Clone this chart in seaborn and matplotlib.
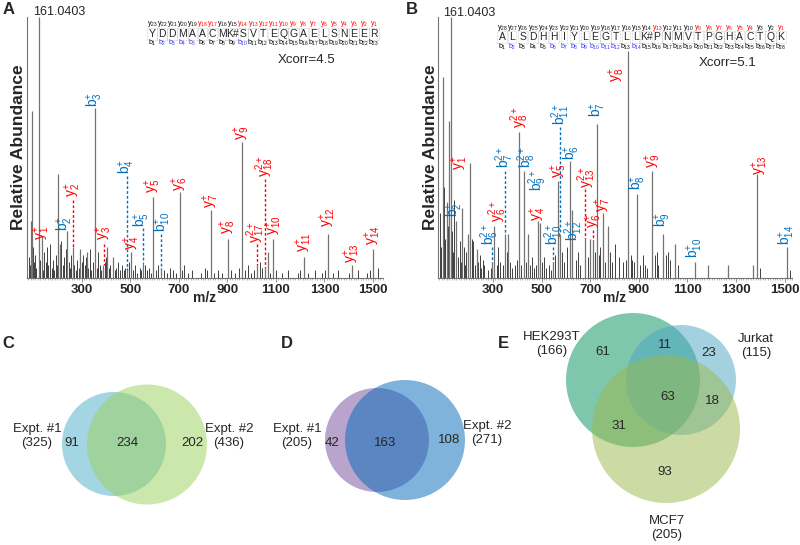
import matplotlib
matplotlib.use('Agg')
import matplotlib.pyplot as plt
from matplotlib.patches import Circle
from matplotlib.ticker import MultipleLocator
import seaborn as sns

# ---------------- data ----------------
# panel A: annotated peaks (m/z, relative abundance)
A_peak_mz = [96, 123, 91, 137, 203, 211, 240, 264, 293, 322, 355, 388, 405, 429, 487, 503,
             553, 594, 627, 705, 833, 903, 961, 1022, 1055, 1068, 1088, 1216, 1315, 1414, 1500]
A_peak_int = [.64, 1.0, .22, .16, .40, .13, .18, .12, .11, .10, .65, .05, .12, .08, .04, .10,
              .06, .31, .03, .33, .26, .15, .52, .05, .04, .10, .15, .08, .17, .05, .11]
# panel A: small background peaks (m/z, rel. abundance)
A_noise = [(82, .08), (86, .05), (100, .12), (104, .06), (108, .09), (113, .04), (130, .07),
           (141, .03), (146, .10), (152, .06), (158, .12), (163, .05), (170, .13), (176, .04),
           (182, .07), (188, .03), (194, .09), (199, .05), (216, .14), (222, .05), (228, .08),
           (234, .11), (246, .06), (252, .04), (258, .09), (270, .05), (276, .03), (282, .07),
           (288, .04), (300, .06), (306, .09), (312, .05), (318, .08), (328, .04), (334, .11),
           (340, .03), (346, .06), (362, .04), (368, .10), (374, .05), (380, .03), (395, .06),
           (400, .08), (412, .04), (418, .05), (436, .03), (442, .04), (450, .06), (458, .03),
           (466, .05), (474, .03), (480, .04), (495, .06), (512, .03), (520, .05), (530, .02),
           (540, .04), (546, .03), (560, .05), (568, .03), (578, .04), (586, .02), (606, .03),
           (614, .05), (640, .03), (652, .02), (664, .04), (676, .03), (690, .02), (712, .03),
           (722, .05), (740, .02), (756, .03), (790, .02), (806, .04), (818, .03), (846, .02),
           (862, .03), (880, .02), (915, .03), (930, .02), (946, .04), (972, .03), (984, .05),
           (996, .02), (1010, .03), (1034, .06), (1044, .04), (1076, .02), (1102, .03),
           (1124, .02), (1150, .03), (1192, .02), (1200, .03), (1232, .02), (1262, .03),
           (1290, .02), (1302, .03), (1336, .02), (1356, .03), (1402, .02), (1440, .03),
           (1474, .02), (1488, .03), (1522, .04)]
A_ions = ['y1+', 'b2+', 'y2+', 'b3+', 'y3+', 'b4+', 'y4+', 'b5+', 'b10+', 'y5+', 'y6+', 'y7+',
          'y8+', 'y9+', 'y17 2+', 'y18 2+', 'y10+', 'y11+', 'y12+', 'y13+', 'y14+']

# panel B
B_peak_mz = [95, 119, 126, 111, 148, 173, 197, 206, 234, 296, 304, 349, 362, 407, 427, 444,
             485, 493, 547, 567, 575, 617, 625, 678, 699, 711, 727, 752, 773, 855, 892, 954,
             999, 1048, 1130, 1184, 1266, 1369, 1385, 1508]
B_peak_int = [.77, .60, 1.0, .29, .22, .27, .17, .44, .11, .06, .20, .17, .17, .56, .41, .17,
              .22, .21, .06, .37, .17, .45, .26, .15, .15, .14, .59, .25, .20, .87, .32, .41,
              .17, .13, .06, .05, .05, .05, .40, .12]
B_noise = [(84, .25), (88, .12), (100, .35), (104, .15), (115, .20), (130, .18), (135, .10),
           (140, .30), (158, .08), (163, .14), (168, .06), (180, .12), (186, .05), (190, .10),
           (214, .15), (220, .14), (226, .05), (240, .06), (246, .09), (252, .04), (258, .07),
           (264, .05), (280, .03), (290, .04), (316, .05), (322, .12), (330, .06), (340, .05),
           (356, .10), (372, .06), (380, .04), (390, .05), (400, .07), (415, .05), (435, .06),
           (452, .05), (460, .08), (470, .04), (478, .05), (500, .06), (510, .08), (520, .04),
           (530, .05), (540, .03), (556, .09), (584, .10), (592, .06), (604, .12), (640, .07),
           (650, .10), (660, .05), (690, .08), (720, .10), (735, .09), (742, .12), (760, .06),
           (782, .10), (790, .06), (800, .13), (820, .08), (836, .06), (846, .07), (866, .09),
           (872, .07), (880, .06), (904, .05), (916, .09), (924, .05), (935, .04), (968, .09),
           (974, .10), (980, .05), (1010, .09), (1020, .10), (1030, .07), (1060, .05),
           (1400, .04), (1520, .03)]
B_ions = ['y1+', 'b2+', 'b6 2+', 'y6 2+', 'b7 2+', 'y8 2+', 'b8 2+', 'b9 2+', 'y4+', 'b10 2+',
          'y5+', 'b11 2+', 'b6+', 'b12 2+', 'y13 2+', 'y6+', 'b7+', 'y7+', 'y8+', 'b8+', 'y9+',
          'b9+', 'b10+', 'y13+', 'b14+']

A_sequence = ['Y', 'D', 'D', 'M', 'A', 'A', 'C', 'M', 'K#', 'S', 'V', 'T', 'E', 'Q', 'G', 'A',
              'E', 'L', 'S', 'N', 'E', 'E', 'R']
A_y_found = [1, 2, 3, 4, 5, 6, 7, 8, 9, 10, 11, 12, 13, 14, 17, 18]
A_b_found = [2, 3, 4, 5, 10]
B_sequence = ['A', 'L', 'S', 'D', 'H', 'H', 'I', 'Y', 'L', 'E', 'G', 'T', 'L', 'L', 'K#', 'P',
              'N', 'M', 'V', 'T', 'P', 'G', 'H', 'A', 'C', 'T', 'Q', 'K']
B_y_found = [1, 4, 5, 6, 7, 8, 9, 13]
B_b_found = [2, 6, 7, 8, 9, 10, 11, 12, 14]
xcorr = {'A': 4.5, 'B': 5.1}
base_peak = '161.0403'

venn_c_names = ['Expt. #1', 'Expt. #2']
venn_c_totals = [325, 436]
venn_c_counts = [91, 234, 202]
venn_d_names = ['Expt. #1', 'Expt. #2']
venn_d_totals = [205, 271]
venn_d_counts = [42, 163, 108]
venn_e_names = ['HEK293T', 'Jurkat', 'MCF7']
venn_e_totals = [166, 115, 205]
# HEK only, HEK&Jurkat, Jurkat only, all, Jurkat&MCF7, HEK&MCF7, MCF7 only
venn_e_counts = [61, 11, 23, 63, 18, 31, 93]

# ---------------- layout (label positions, m/z and height) ----------------
A_label_pos = [(137, .146), (232, .18), (264, .31), (355, .655), (392, .146), (487, .40),
               (507, .107), (548, .195), (634, .176), (594, .325), (705, .335), (833, .27),
               (903, .17), (961, .53), (1016, .134), (1055, .387), (1094, .165), (1216, .10),
               (1315, .195), (1414, .057), (1500, .126)]
A_leaders = [('y', 264, .30, .12), ('y', 392, .13, .05), ('b', 487, .39, .03),
             ('b', 553, .19, .06), ('b', 627, .17, .03), ('y', 1022, .13, .05),
             ('y', 1055, .38, .04)]
B_label_pos = [(164, .415), (144, .235), (288, .127), (321, .215), (349, .42), (412, .575),
               (440, .42), (486, .335), (486, .22), (551, .125), (570, .385), (578, .588),
               (625, .454), (634, .14), (686, .346), (714, .19), (732, .615), (752, .254),
               (810, .75), (896, .338), (958, .423), (999, .196), (1130, .077), (1397, .396),
               (1508, .127)]
B_leaders = [('b', 296, .12, .06), ('b', 349, .41, .17), ('b', 547, .12, .06),
             ('b', 575, .58, .17), ('y', 678, .34, .15), ('y', 711, .185, .14)]

RED = '#ff0000'
BLUE = '#0070c0'

sns.set_theme(style='white')
plt.rcParams['font.family'] = ['Liberation Sans', 'DejaVu Sans']
plt.rcParams['mathtext.fontset'] = 'custom'
plt.rcParams['mathtext.rm'] = 'Liberation Sans'
plt.rcParams['mathtext.it'] = 'Liberation Sans'
plt.rcParams['mathtext.bf'] = 'Liberation Sans:bold'


def ion_text(ion):
    parts = ion.split()
    if len(parts) == 2:
        kind_num, charge = parts
    else:
        kind_num, charge = ion[:-1], '+'
    return r'$\mathregular{%s_{%s}^{%s}}$' % (kind_num[0], kind_num[1:], charge), kind_num[0]


def draw_spectrum(ax, mz, inten, noise, ions, label_pos, leaders, xlim):
    n_mz = [p[0] for p in noise]
    n_int = [p[1] for p in noise]
    ax.vlines(n_mz, 0, n_int, color='0.25', lw=0.7)
    ax.vlines(mz, 0, inten, color='0.45', lw=0.9)
    for ion, (x, y) in zip(ions, label_pos):
        txt, kind = ion_text(ion)
        ax.text(x, y, txt, rotation=90, ha='center', va='bottom', fontsize=10,
                color=RED if kind == 'y' else BLUE)
    for kind, x, y0, y1 in leaders:
        ax.plot([x, x], [y0, y1], ls=(0, (2, 1.5)), lw=1,
                color=RED if kind == 'y' else BLUE)
    ax.set_xlim(*xlim)
    ax.set_ylim(0, 1.0)
    ax.set_yticks([])
    ax.set_xticks(range(300, 1501, 200))
    ax.xaxis.set_minor_locator(MultipleLocator(10))
    ax.tick_params(axis='x', which='major', bottom=True, length=3, width=0.6, color='0.5',
                   pad=1, labelsize=9.5)
    ax.tick_params(axis='x', which='minor', bottom=True, length=1.5, width=0.4, color='0.5')
    for lab in ax.get_xticklabels():
        lab.set_fontweight('bold')
    sns.despine(ax=ax)
    for side in ['left', 'bottom']:
        ax.spines[side].set_color('0.45')
        ax.spines[side].set_linewidth(0.8)
    ax.set_xlabel('m/z', fontsize=10, fontweight='bold', labelpad=-3)
    ax.set_facecolor('none')


fig = plt.figure(figsize=(8, 5.45), dpi=100)
axA = fig.add_axes([27 / 800, 1 - 278 / 545, 356 / 800, 261 / 545])
axB = fig.add_axes([438 / 800, 1 - 278 / 545, 354 / 800, 261 / 545])
draw_spectrum(axA, A_peak_mz, A_peak_int, A_noise, A_ions, A_label_pos, A_leaders, (75, 1541))
draw_spectrum(axB, B_peak_mz, B_peak_int, B_noise, B_ions, B_label_pos, B_leaders, (74, 1530))
axA.set_ylabel('Relative Abundance', fontsize=12.5, fontweight='bold', labelpad=1)
axB.set_ylabel('Relative Abundance', fontsize=12.5, fontweight='bold', labelpad=0)

# overlay in pixel coordinates for letters, sequences and Venn diagrams
ov = fig.add_axes([0, 0, 1, 1])
ov.set_xlim(0, 800)
ov.set_ylim(545, 0)
ov.set_axis_off()

for letter, (x, y) in zip('ABCDE', [(9, 9), (412, 9), (8, 344), (287, 344), (503, 344)]):
    ov.text(x, y, letter, fontsize=12, fontweight='bold', ha='center', va='center')

# base peak labels and Xcorr
ov.text(33, 12, base_peak, fontsize=9, ha='left', va='center')
ov.text(443, 13, base_peak, fontsize=9, ha='left', va='center')
ov.text(307, 60, 'Xcorr=%.1f' % xcorr['A'], fontsize=9.5, ha='center', va='center')
ov.text(728, 63, 'Xcorr=%.1f' % xcorr['B'], fontsize=9.5, ha='center', va='center')


def draw_sequence(seq, y_found, b_found, x0, x1, y_row, s_row, b_row):
    n = len(seq)
    step = (x1 - x0) / (n - 1)
    for i, res in enumerate(seq):
        x = x0 + i * step
        ov.text(x, s_row, res, fontsize=7.5, ha='center', va='center',
                bbox=dict(boxstyle='square,pad=0.12', fc='none', ec='0.6', lw=0.4, ls=':'))
        yn = n - i
        ov.text(x, y_row, r'$\mathregular{y_{%d}}$' % yn, fontsize=5, ha='center', va='center',
                color=RED if yn in y_found else 'black')
        bn = i + 1
        ov.text(x, b_row, r'$\mathregular{b_{%d}}$' % bn, fontsize=5, ha='center', va='center',
                color='#3333ff' if bn in b_found else 'black')


draw_sequence(A_sequence, A_y_found, A_b_found, 152, 374, 24, 34, 43)
draw_sequence(B_sequence, B_y_found, B_b_found, 502, 781, 28, 37, 47)

# Venn C
ov.add_patch(Circle((114, 444), 52, color='#4bacc6', alpha=0.5, lw=0))
ov.add_patch(Circle((147, 444.5), 60, color='#9bd05a', alpha=0.5, lw=0))
for (x, y), v in zip([(72, 443), (127, 443), (192, 443)], venn_c_counts):
    ov.text(x, y, str(v), fontsize=9.5, ha='center', va='center')
for (x, y), name, tot in zip([(37, 436), (229, 436)], venn_c_names, venn_c_totals):
    ov.text(x, y, '%s\n(%d)' % (name, tot), fontsize=9.5, ha='center', va='center',
            linespacing=1.15)

# Venn D
ov.add_patch(Circle((377, 440), 52, color='#734b9b', alpha=0.5, lw=0))
ov.add_patch(Circle((405, 440), 60, color='#0069b9', alpha=0.5, lw=0))
for (x, y), v in zip([(332, 443), (385, 443), (449, 440)], venn_d_counts):
    ov.text(x, y, str(v), fontsize=9.5, ha='center', va='center')
for (x, y), name, tot in zip([(297, 436), (487, 433)], venn_d_names, venn_d_totals):
    ov.text(x, y, '%s\n(%d)' % (name, tot), fontsize=9.5, ha='center', va='center',
            linespacing=1.15)

# Venn E
ov.add_patch(Circle((633, 380), 67, color='#00915a', alpha=0.5, lw=0))
ov.add_patch(Circle((681, 380), 55, color='#4ba5c3', alpha=0.5, lw=0))
ov.add_patch(Circle((666, 429), 74, color='#9bb94b', alpha=0.5, lw=0))
e_pos = [(603, 352), (665, 345), (709, 353), (668, 397), (712, 401), (619, 426), (665, 472)]
for (x, y), v in zip(e_pos, venn_e_counts):
    ov.text(x, y, str(v), fontsize=9.5, ha='center', va='center')
for (x, y), name, tot in zip([(552, 344), (756, 346), (667, 528)], venn_e_names, venn_e_totals):
    ov.text(x, y, '%s\n(%d)' % (name, tot), fontsize=9.5, ha='center', va='center',
            linespacing=1.15)

fig.savefig('out.png', dpi=100)
